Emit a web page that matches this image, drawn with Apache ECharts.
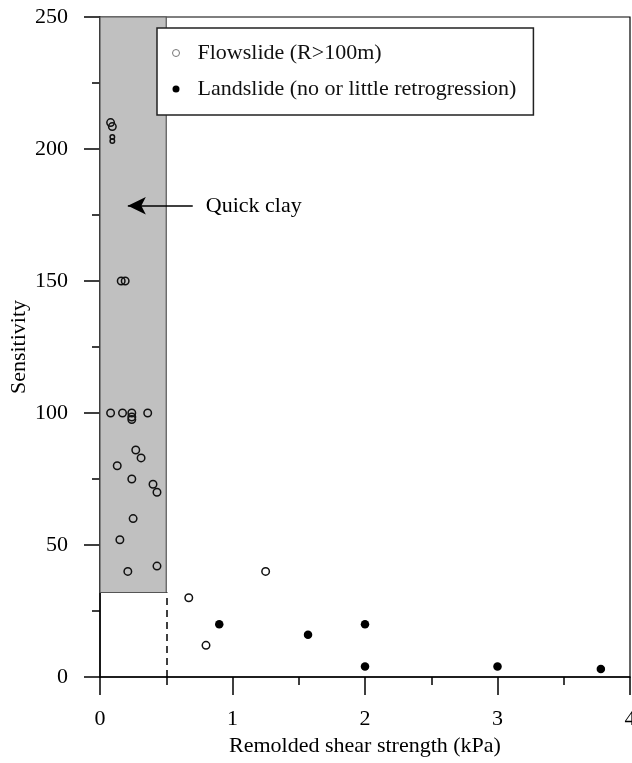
<!DOCTYPE html>
<html>
<head>
<meta charset="utf-8">
<title>Sensitivity vs remolded shear strength</title>
<script src="https://cdn.jsdelivr.net/npm/echarts@6/dist/echarts.min.js"></script>
<style>
  html,body{margin:0;padding:0;background:#fff;}
  #chart{width:632px;height:763px;}
</style>
</head>
<body>
<div id="chart"></div>
<script>
  // flowslides (open circles), [remolded shear strength kPa, sensitivity]
  var flowslide = [
    [0.08, 210], [0.093, 208.5], [0.093, 204.5], [0.093, 203],
    [0.16, 150], [0.19, 150],
    [0.08, 100], [0.17, 100], [0.24, 100], [0.24, 98.5], [0.24, 97.5], [0.36, 100],
    [0.27, 86], [0.31, 83], [0.13, 80], [0.24, 75], [0.40, 73], [0.43, 70],
    [0.25, 60], [0.15, 52], [0.43, 42], [0.21, 40],
    [0.67, 30], [1.25, 40], [0.80, 12]
  ];
  // the two tiny circles just under 205
  var flowSmall = [2, 3];

  // landslides (filled circles)
  var landslide = [
    [0.90, 20], [1.57, 16], [2.0, 20], [2.0, 4], [3.0, 4], [3.78, 3]
  ];

  // quick clay zone and annotation
  var quickClayX = [0, 0.5];
  var quickClayY = [32, 250];
  var arrowFrom = [0.70, 178.5];
  var arrowTo = [0.21, 178.5];

  var xTicks = {min: 0, max: 4, interval: 1};
  var yTicks = {min: 0, max: 250, interval: 50};

  var serif = 'Liberation Serif, Times New Roman, serif';

  var chart = echarts.init(document.getElementById('chart'));
  var option = {
    animation: false,
    textStyle: {fontFamily: serif, color: '#000'},
    grid: {
      left: 100, right: 2, top: 17, bottom: 86,
      outerBoundsMode: 'none',
      containLabel: false,
      show: true, borderColor: '#000', borderWidth: 1.2
    },
    legend: {
      orient: 'vertical',
      left: 157, top: 28,
      padding: [14, 17, 15, 15],
      itemGap: 14,
      itemWidth: 7, itemHeight: 7,
      backgroundColor: '#fff',
      borderColor: '#222', borderWidth: 1.5,
      z: 20,
      textStyle: {fontSize: 22, fontFamily: serif, color: '#111', padding: [0, 0, 0, 13]},
      data: [
        {name: 'Flowslide (R>100m)', icon: 'circle',
          itemStyle: {color: 'rgba(0,0,0,0)', borderColor: '#777', borderWidth: 1}},
        {name: 'Landslide (no or little retrogression)', icon: 'circle',
          itemStyle: {color: '#000', borderWidth: 0}}
      ]
    },
    xAxis: {
      type: 'value',
      min: xTicks.min, max: xTicks.max, interval: xTicks.interval,
      name: 'Remolded shear strength (kPa)',
      nameLocation: 'middle', nameGap: 58,
      nameMoveOverlap: false,
      nameTextStyle: {fontSize: 22, fontFamily: serif, color: '#000'},
      axisLine: {show: true, lineStyle: {color: '#000', width: 1.5}},
      axisTick: {show: true, length: 18, lineStyle: {color: '#000', width: 1.5}},
      minorTick: {show: true, splitNumber: 2, length: 8, lineStyle: {color: '#000', width: 1.5}},
      axisLabel: {fontSize: 22, fontFamily: serif, color: '#000', margin: 31},
      splitLine: {show: false}
    },
    yAxis: {
      type: 'value',
      min: yTicks.min, max: yTicks.max, interval: yTicks.interval,
      name: 'Sensitivity',
      nameLocation: 'middle', nameGap: 70,
      nameMoveOverlap: false,
      nameTextStyle: {fontSize: 22, fontFamily: serif, color: '#000'},
      axisLine: {show: true, lineStyle: {color: '#000', width: 1.5}},
      axisTick: {show: true, length: 16, lineStyle: {color: '#000', width: 1.5}},
      minorTick: {show: true, splitNumber: 2, length: 8, lineStyle: {color: '#000', width: 1.5}},
      axisLabel: {fontSize: 22, fontFamily: serif, color: '#000', margin: 32},
      splitLine: {show: false}
    },
    series: [
      {
        // zone, dashed boundary and arrow only
        name: 'zone',
        type: 'scatter',
        data: [],
        silent: true,
        z: 1,
        markArea: {
          silent: true,
          itemStyle: {color: '#c0c0c0', borderColor: '#555', borderWidth: 1.2},
          data: [[
            {coord: [quickClayX[0], quickClayY[0]]},
            {coord: [quickClayX[1], quickClayY[1]]}
          ]]
        },
        markLine: {
          silent: true,
          animation: false,
          data: [
            [
              {coord: [quickClayX[1], 0], symbol: 'none',
                lineStyle: {color: '#000', width: 1.5, type: [7, 5]}},
              {coord: [quickClayX[1], quickClayY[0]], symbol: 'none'}
            ],
            [
              {coord: arrowFrom, symbol: 'none',
                lineStyle: {color: '#000', width: 1.5, type: 'solid'}},
              {coord: arrowTo, symbol: 'arrow', symbolSize: [13, 18]}
            ]
          ],
          label: {show: false}
        },
        markPoint: {
          silent: true,
          symbol: 'circle',
          symbolSize: 0,
          data: [{coord: arrowFrom}],
          label: {
            show: true, position: 'right', distance: 13,
            formatter: 'Quick clay',
            fontSize: 22, fontFamily: serif, color: '#000'
          }
        }
      },
      {
        name: 'Flowslide (R>100m)',
        type: 'scatter',
        z: 5,
        symbol: 'circle',
        symbolSize: function (val, params) {
          return flowSmall.indexOf(params.dataIndex) >= 0 ? 4.5 : 7.5;
        },
        itemStyle: {color: 'rgba(0,0,0,0)', borderColor: '#111', borderWidth: 1.5, opacity: 1},
        data: flowslide
      },
      {
        name: 'Landslide (no or little retrogression)',
        type: 'scatter',
        z: 5,
        symbol: 'circle',
        symbolSize: 8.5,
        itemStyle: {color: '#000', opacity: 1},
        data: landslide
      }
    ]
  };
  chart.setOption(option);
</script>
</body>
</html>
